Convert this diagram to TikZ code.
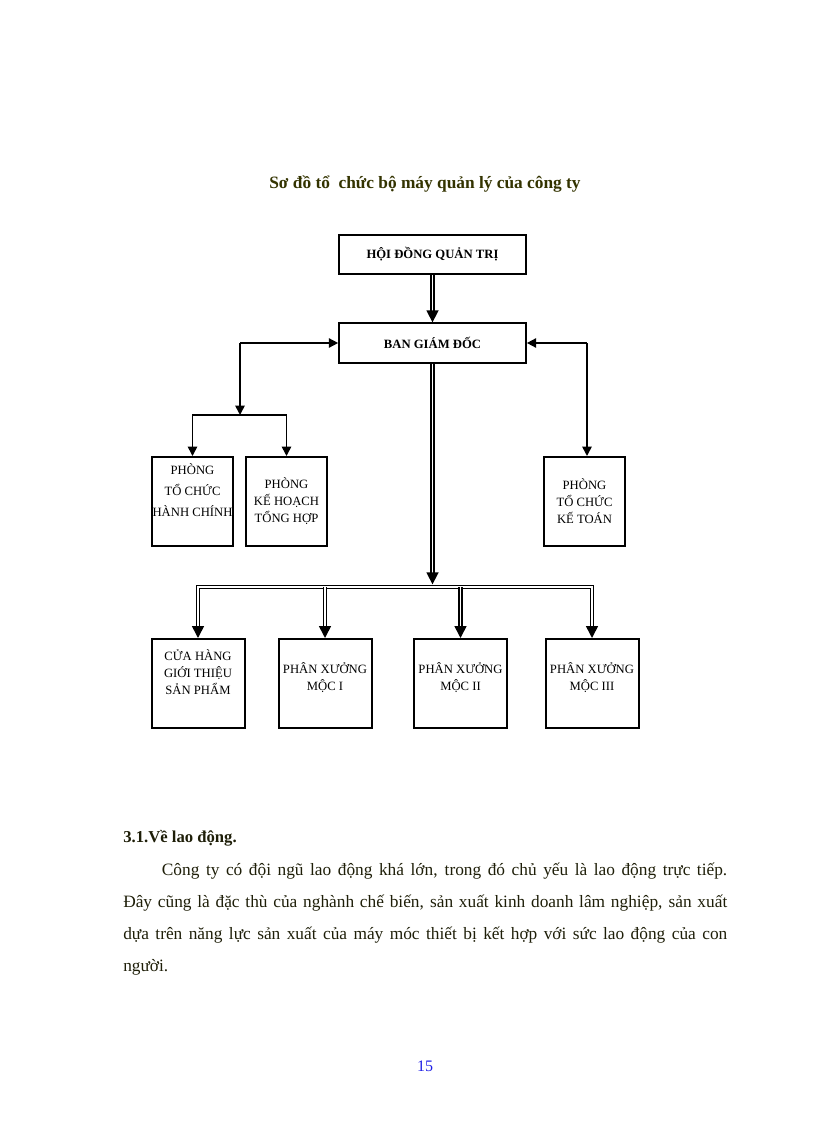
\documentclass[tikz,border=0pt]{standalone}
\usepackage{fontspec}
\setmainfont{Liberation Serif}
\usetikzlibrary{arrows.meta}
\definecolor{titleolive}{RGB}{51,51,0}
\definecolor{bodyink}{RGB}{30,30,8}
\definecolor{pageblue}{RGB}{30,30,230}

\begin{document}
\begin{tikzpicture}[%
    x=0.75pt, y=-0.75pt,
    headbox/.style={draw, line width=1.5pt, minimum width=140pt, minimum height=29.5pt,
      font=\fontsize{9.5}{12}\selectfont\bfseries},
    unitbox/.style={draw, line width=1.5pt, minimum width=60.75pt, minimum height=66.75pt,
      inner xsep=0pt, align=center, font=\fontsize{9.5}{12.75}\selectfont},
    shopbox/.style={unitbox, minimum width=69.75pt},
    link/.style={line width=1.2pt, -{Triangle[length=7pt,width=7pt]}},
    fork/.style={line width=1.2pt, {Triangle[length=7pt,width=7pt]}-{Triangle[length=7pt,width=7pt]}},
    duallink/.style={double, line width=1.2pt, double distance=0.8pt, -{Triangle[length=9pt,width=9pt]}},
    dualfork/.style={double, line width=1.2pt, double distance=0.8pt,
      {Triangle[length=9pt,width=9pt]}-{Triangle[length=9pt,width=9pt]}}]
  \useasboundingbox (0,0) rectangle (816,1123);
  \node[font=\fontsize{13}{16}\selectfont\bfseries, text=titleolive] (title) at (425,184)
    {Sơ đồ tổ\ \ chức bộ máy quản lý của công ty};

  \node[headbox] (hdqt) at (432.5,254.5) {HỘI ĐỒNG QUẢN TRỊ};
  \node[headbox] (bgd) at (432.5,343) {BAN GIÁM ĐỐC};
  \node[unitbox, text depth=17pt, font=\fontsize{9.5}{15.75}\selectfont] (tchc) at (192.5,501.5)
    {PHÒNG\\TỔ CHỨC\\HÀNH CHÍNH};
  \node[unitbox] (khth) at (286.5,501.5) {PHÒNG\\KẾ HOẠCH\\TỔNG HỢP};
  \node[unitbox] (tckt) at (584.5,501.5) {PHÒNG\\TỔ CHỨC\\KẾ TOÁN};
  \node[shopbox, text depth=17pt] (cua) at (198,683.5) {CỬA HÀNG\\GIỚI THIỆU\\SẢN PHẨM};
  \node[shopbox, text depth=11pt] (moc1) at (325,683.5) {PHÂN XƯỞNG\\MỘC I};
  \node[shopbox, text depth=11pt] (moc2) at (460.5,683.5) {PHÂN XƯỞNG\\MỘC II};
  \node[shopbox, text depth=11pt] (moc3) at (592,683.5) {PHÂN XƯỞNG\\MỘC III};

  \coordinate (lt) at (240,343);
  \coordinate (lb) at (240,415);
  \coordinate (rt) at (587,343);
  \coordinate (bus) at (432.5,587);

  \draw[duallink] (hdqt) -- (bgd);
  \draw[link] (lt) -- (bgd.west);
  \draw[link] (lt) -- (lb);
  \draw[fork] (tchc.north) |- (lb) -| (khth.north);
  \draw[link] (rt) -- (bgd.east);
  \draw[link] (rt) -- (rt |- tckt.north);
  \draw[duallink] (bgd) -- ([yshift=2pt]bus);
  \draw[dualfork] (cua.north) |- (bus) -| (moc3.north);
  \draw[duallink] (bus -| moc1) -- (moc1.north);
  \draw[duallink] (bus -| moc2) -- (moc2.north);

  \node[anchor=base west, inner sep=0pt, font=\fontsize{12.5}{16}\selectfont\bfseries, text=bodyink]
    (sec) at (123,842.5) {3.1.Về lao động.};
  \node[anchor=base west, inner sep=0pt, text width=453pt, align=justify,
      font=\fontsize{13}{24}\selectfont, text=bodyink] (para) at (123,875)
    {\hspace*{29pt}Công ty có đội ngũ lao động khá lớn, trong đó chủ yếu là lao động trực tiếp.\linebreak
     Đây cũng là đặc thù của nghành chế biến, sản xuất kinh doanh lâm nghiệp, sản xuất\linebreak
     dựa trên năng lực sản xuất của máy móc thiết bị kết hợp với sức lao động của con\linebreak
     người.};
  \node[font=\fontsize{12}{14}\selectfont, text=pageblue] (page) at (425,1066) {15};
\end{tikzpicture}
\end{document}
